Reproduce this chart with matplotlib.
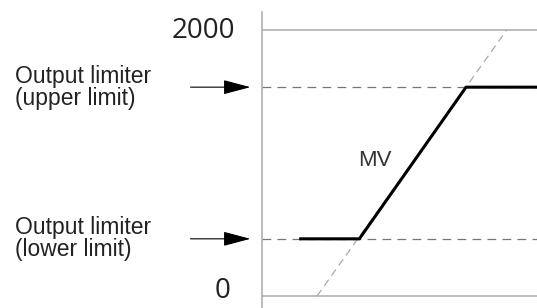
#!/usr/bin/env python3
"""Output limiter diagram: MV clamped between lower and upper limits."""
import matplotlib
matplotlib.use("Agg")
import matplotlib.pyplot as plt

plt.rcParams.update({"font.family": "Liberation Sans"})

# schematic data (x in arbitrary input units, y in MV counts)
ideal_x = [20, 89]          # unclamped MV line
ideal_y = [0, 2000]
mv_x = [13.5, 35.4, 74.2, 100]
mv_y = [430, 430, 1570, 1570]
lower_limit = 430
upper_limit = 1570
y_ticks = [0, 2000]
limit_labels = ["Output limiter\n(upper limit)", "Output limiter\n(lower limit)"]

fig = plt.figure(figsize=(5.37, 3.08), dpi=100)
ax = fig.add_axes([262 / 537, 0, 275 / 537, 296 / 308])
ax.set_xlim(0, 100)
ax.set_ylim(-90, 2135)

for s in ("top", "right", "bottom"):
    ax.spines[s].set_visible(False)
ax.spines["left"].set_color("#b0b0b0")
ax.spines["left"].set_linewidth(1.2)
ax.set_xticks([])
ax.set_yticks([])

for yv in y_ticks:
    ax.axhline(yv, color="#b0b0b0", lw=1.2)
# tick labels sit a little above their lines, as in the original
for yv, dy, xr in zip(y_ticks, (40, -5), (-11.5, -9.8)):
    ax.text(xr, yv + dy, str(yv), family="Open Sans", fontsize=20,
            color="#222222", ha="right", va="center", clip_on=False)

for yv in (lower_limit, upper_limit):
    ax.axhline(yv, color="#777777", lw=0.9, ls=(0, (7, 5)))

ax.plot(ideal_x, ideal_y, color="#aaaaaa", lw=0.9, ls=(0, (6, 4)), clip_on=False)
ax.plot(mv_x, mv_y, color="black", lw=2.2, solid_capstyle="butt")
ax.text(41, 1015, "MV", fontsize=16, ha="center", va="center", color="#333333")

for lab, yv in zip(limit_labels, (upper_limit, lower_limit)):
    ax.annotate("", xy=(-3.2, yv), xytext=(-27, yv), annotation_clip=False,
                arrowprops=dict(arrowstyle="-|>,head_length=1.7,head_width=0.45",
                                color="black", lw=0.8))
    ax.text(-89.8, yv, lab, fontsize=16.5, ha="left", va="center",
            linespacing=0.95, color="#222222", clip_on=False)

fig.savefig("out.png", dpi=100, facecolor="white")
